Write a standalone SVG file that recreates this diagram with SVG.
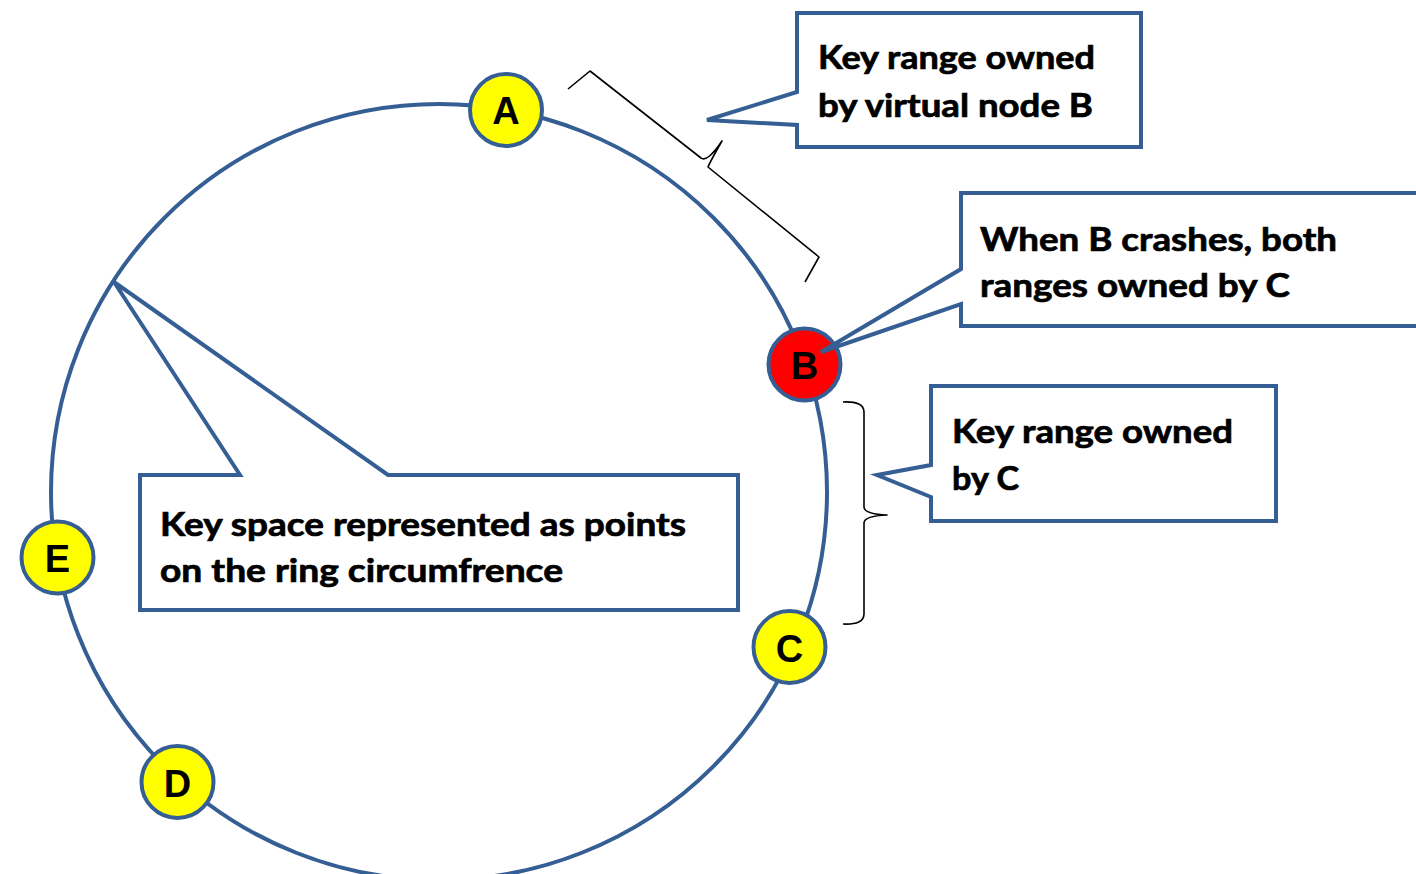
<svg xmlns="http://www.w3.org/2000/svg" width="1416" height="874" viewBox="0 0 1416 874">
<style>
.ring{fill:none;stroke:#355F94;stroke-width:4}
.node{stroke:#355F94;stroke-width:4}
.yellow{fill:#FFFF00}
.red{fill:#FF0000}
.lbl{font-family:"Liberation Sans",Arial,sans-serif;font-weight:bold;font-size:38px;fill:#000;text-anchor:middle}
.callout{fill:#FFFFFF;stroke:#355F94;stroke-width:4;stroke-linejoin:miter}
.txt{font-family:Lato,"Liberation Sans",sans-serif;font-weight:bold;font-size:32px;fill:#000;stroke:#000;stroke-width:0.7}
.brace{fill:none;stroke:#000;stroke-width:1.6;stroke-linejoin:round}
</style>
<rect width="1416" height="874" fill="#FFFFFF"/>
<g id="ring">
<circle class="ring" cx="439" cy="492" r="388"/>
</g>
<g id="connectors">
<path class="brace" d="M568,89 L590,71 L701,158 Q707,163 722,141 Q711,160 708,167 L819,257 L805,282"/>
<path class="brace" d="M843,402 Q864,401 864,412 L864,507 Q864,514 887,515 Q864,516 864,523 L864,614 Q864,625 843,624"/>
</g>
<g id="node-A">
<circle class="node yellow" cx="506" cy="110" r="36"/>
<text class="lbl" x="506" y="124">A</text>
</g>
<g id="node-B">
<circle class="node red" cx="804.5" cy="364.5" r="36"/>
<text class="lbl" x="804.5" y="379">B</text>
</g>
<g id="node-C">
<circle class="node yellow" cx="789.5" cy="647" r="36"/>
<text class="lbl" x="789.5" y="662">C</text>
</g>
<g id="node-D">
<circle class="node yellow" cx="177.5" cy="782" r="36"/>
<text class="lbl" x="177.5" y="797">D</text>
</g>
<g id="node-E">
<circle class="node yellow" cx="57.5" cy="557.5" r="36"/>
<text class="lbl" x="57.5" y="572">E</text>
</g>
<g id="callout-range-B">
<path class="callout" d="M797,13 L1141,13 L1141,147 L797,147 L797,125 L707,120 L797,92 Z"/>
<text class="txt" x="818" y="69" textLength="277" lengthAdjust="spacingAndGlyphs">Key range owned</text>
<text class="txt" x="818" y="117" textLength="275" lengthAdjust="spacingAndGlyphs">by virtual node B</text>
</g>
<g id="callout-crash">
<path class="callout" d="M961,193 L1422,193 L1422,326 L961,326 L961,304 L821,352 L961,269 Z"/>
<text class="txt" x="980" y="251" textLength="357" lengthAdjust="spacingAndGlyphs">When B crashes, both</text>
<text class="txt" x="980" y="297" textLength="310" lengthAdjust="spacingAndGlyphs">ranges owned by C</text>
</g>
<g id="callout-range-C">
<path class="callout" d="M931,386 L1276,386 L1276,521 L931,521 L931,497 L877,475 L931,465 Z"/>
<text class="txt" x="952" y="443" textLength="281" lengthAdjust="spacingAndGlyphs">Key range owned</text>
<text class="txt" x="952" y="490" textLength="67" lengthAdjust="spacingAndGlyphs">by C</text>
</g>
<g id="callout-keyspace">
<path class="callout" d="M140,475 L240,475 L114,282 L388,475 L738,475 L738,610 L140,610 Z"/>
<text class="txt" x="160" y="536" textLength="526" lengthAdjust="spacingAndGlyphs">Key space represented as points</text>
<text class="txt" x="160" y="582" textLength="403" lengthAdjust="spacingAndGlyphs">on the ring circumfrence</text>
</g>
</svg>
